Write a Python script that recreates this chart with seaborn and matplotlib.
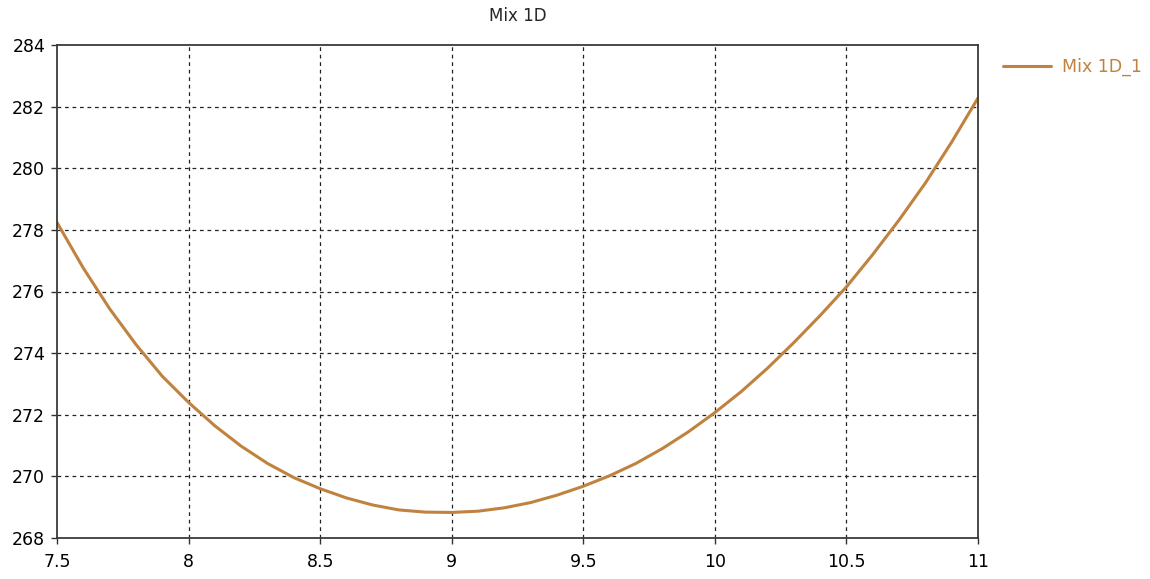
import numpy as np
import pandas as pd
import matplotlib
matplotlib.use("Agg")
import matplotlib.pyplot as plt
import seaborn as sns

x_vals = [7.5, 7.6, 7.7, 7.8, 7.9, 8.0, 8.1, 8.2, 8.3, 8.4, 8.5, 8.6, 8.7, 8.8, 8.9,
          9.0, 9.1, 9.2, 9.3, 9.4, 9.5, 9.6, 9.7, 9.8, 9.9, 10.0, 10.1, 10.2, 10.3,
          10.4, 10.5, 10.6, 10.7, 10.8, 10.9, 11.0]
y_vals = [278.24, 276.76, 275.44, 274.28, 273.25, 272.4, 271.64, 270.98, 270.42, 269.96, 269.6,
          269.3, 269.07, 268.91, 268.84, 268.83, 268.87, 268.98, 269.15, 269.39, 269.68,
          270.02, 270.42, 270.9, 271.45, 272.07, 272.75, 273.51, 274.34, 275.22, 276.15,
          277.2, 278.32, 279.52, 280.85, 282.28]
series_name = "Mix 1D_1"
title = "Mix 1D"
x_ticks = [7.5, 8, 8.5, 9, 9.5, 10, 10.5, 11]
x_tick_labels = ["7.5", "8", "8.5", "9", "9.5", "10", "10.5", "11"]
y_ticks = [268, 270, 272, 274, 276, 278, 280, 282, 284]

sns.set_style("white")
plt.rcParams['font.family'] = ['DejaVu Sans']

df = pd.DataFrame({"x": x_vals, "y": y_vals, "series": series_name})

fig = plt.figure(figsize=(11.5, 5.79), dpi=100)
ax = fig.add_axes([57/1150, 1 - 538/579, (978-57)/1150, (538-45)/579])

color = "#C0823F"
sns.lineplot(data=df, x="x", y="y", hue="series", palette=[color], ax=ax, linewidth=2.2)

ax.set_xlim(7.5, 11)
ax.set_ylim(268, 284)
ax.set_xticks(x_ticks)
ax.set_xticklabels(x_tick_labels)
ax.set_yticks(y_ticks)
ax.set_xlabel("")
ax.set_ylabel("")
ax.grid(True, linestyle=(0, (3, 3)), color="#222222", linewidth=0.9)
# hide grid lines that coincide with the frame
xg = ax.xaxis.get_gridlines()
xg[0].set_visible(False)
xg[-1].set_visible(False)
yg = ax.yaxis.get_gridlines()
yg[0].set_visible(False)
yg[-1].set_visible(False)
for s in ax.spines.values():
    s.set_visible(True)
    s.set_color("#3a3a3a")
    s.set_linewidth(1.3)
    s.set_zorder(3)
ax.tick_params(axis="both", which="both", direction="out", length=4.5, width=1, color="#333333",
               labelsize=12.5, labelcolor="black", left=True, bottom=True)
ax.tick_params(axis="x", pad=6)
ax.tick_params(axis="y", pad=4)
ax.set_title(title, fontsize=12, pad=17)

leg = ax.legend(loc="upper left", bbox_to_anchor=(1.01, 1.005), frameon=False, fontsize=12.5,
                handlelength=2.8, handletextpad=0.6)
for t in leg.get_texts():
    t.set_color(color)

fig.savefig("out.png", dpi=100)
